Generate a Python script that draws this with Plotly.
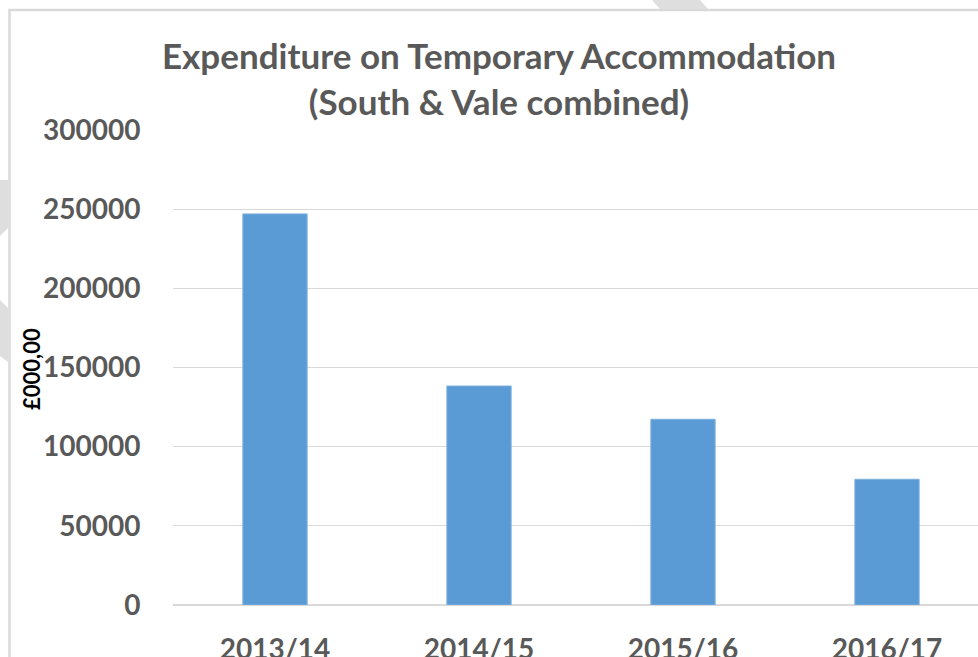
import plotly.graph_objects as go

# Data
years = ["2013/14", "2014/15", "2015/16", "2016/17"]
expenditure = [247000, 138300, 117300, 79400]
y_ticks = [0, 50000, 100000, 150000, 200000, 250000, 300000]

W, H = 978, 657
L, R, T, B = 173, 0, 130, 52
PW, PH = W - L - R, H - T - B

GREY_TXT = "#595959"
GRID = "#D9D9D9"
FONT = "Lato"


def px(x):
    """pixel x -> paper x"""
    return (x - L) / PW


def py(y):
    """pixel y (from top) -> paper y"""
    return (H - B - y) / PH


fig = go.Figure()

fig.add_trace(go.Bar(
    x=years,
    y=expenditure,
    width=0.315,
    marker=dict(color="#5B9BD5", line=dict(color="#7EB0DE", width=1)),
    showlegend=False,
))

# chart frame (runs off the right / bottom of the picture)
shapes = [dict(
    type="rect", xref="paper", yref="paper",
    x0=px(9.5), y0=py(700), x1=px(1100), y1=py(10),
    line=dict(color=GRID, width=2.5), fillcolor="rgba(0,0,0,0)",
    layer="below",
)]

# bits of the faint watermark showing outside the frame
wm = "#DEDEDE"
for path_px in [
    [(652, 0), (700, 0), (708, 9), (660, 9)],
    [(0, 180), (8, 180), (8, 228), (0, 236)],
    [(0, 300), (8, 308), (8, 362), (0, 356)],
]:
    p = "M " + " L ".join(f"{px(x)},{py(y)}" for x, y in path_px) + " Z"
    shapes.append(dict(type="path", xref="paper", yref="paper", path=p,
                       fillcolor=wm, line=dict(width=0), layer="below"))

fig.update_layout(
    width=W, height=H,
    margin=dict(l=L, r=R, t=T, b=B, autoexpand=False),
    paper_bgcolor="white",
    plot_bgcolor="white",
    title=dict(
        text="Expenditure on Temporary Accommodation<br>(South & Vale combined)",
        font=dict(family=FONT, size=35, color=GREY_TXT, weight="bold"),
        x=499 / W, xanchor="center",
        y=1 - 69 / H, yanchor="middle",
    ),
    xaxis=dict(
        range=[-0.5, -0.5 + PW / 204],
        showgrid=False, showline=False, zeroline=False,
        ticks="outside", ticklen=19, tickcolor="rgba(0,0,0,0)",
        tickfont=dict(family=FONT, size=28, color=GREY_TXT, weight="bold"),
        fixedrange=True,
    ),
    yaxis=dict(
        range=[0, 300000],
        tickvals=y_ticks,
        ticktext=[str(v) for v in y_ticks],
        showgrid=True, gridcolor=GRID, gridwidth=1.3,
        zeroline=True, zerolinecolor=GRID, zerolinewidth=1.5,
        showline=False,
        ticks="outside", ticklen=26, tickcolor="rgba(0,0,0,0)",
        tickfont=dict(family=FONT, size=28, color=GREY_TXT, weight="bold"),
        fixedrange=True,
    ),
    shapes=shapes,
    annotations=[dict(
        text="£000,00", textangle=-90,
        xref="paper", yref="paper", x=px(31), y=py(369),
        xanchor="center", yanchor="middle", showarrow=False,
        font=dict(family=FONT, size=22, color="black", weight="bold"),
    )],
    bargap=0.68,
)

# drop the browser's default body margin so the figure sits at (0, 0)
fig.write_html("out.html", config={"displayModeBar": False},
               post_script="document.body.style.margin = '0';")
